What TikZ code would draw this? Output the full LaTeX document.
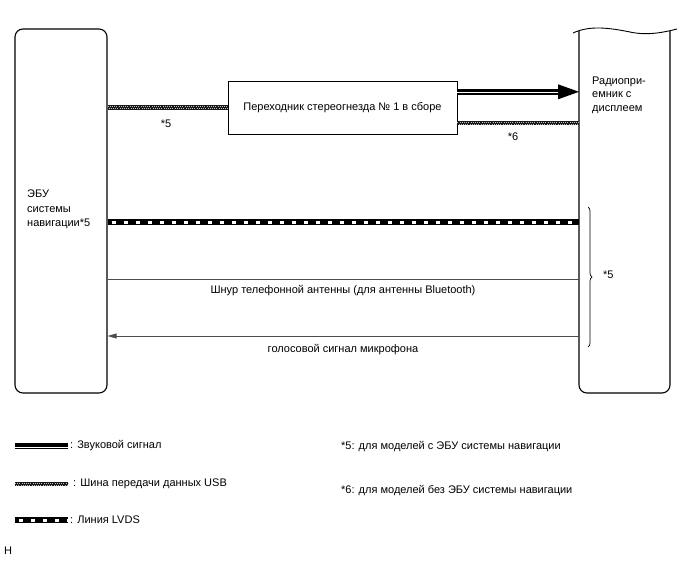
\documentclass[tikz,border=0pt]{standalone}
\usepackage{fontspec}
\setmainfont{Liberation Sans}
\usetikzlibrary{decorations.pathreplacing,calc,arrows.meta}
\tikzset{
  unitbox/.style={draw, line width=1.1pt, rounded corners=8pt, inner sep=0pt},
  lbl/.style={font=\fontsize{11}{14.3}\selectfont, inner sep=0pt},
  audiobase/.style={line width=5.7pt, draw=black},
  audiogap/.style={line width=1pt, draw=white},
  usbbase/.style={line width=4.5pt, draw=black!90},
  usbdots/.style={line width=0.8pt, draw=white!75!black, dash pattern=on 1pt off 1.2pt},
  lvdsbase/.style={line width=6pt, draw=black},
  lvdsgap/.style={line width=3pt, draw=white, dash pattern=on 4pt off 8pt, dash phase=-4pt},
  wire/.style={draw=black!70, line width=0.8pt},
}
\begin{document}
\begin{tikzpicture}[x=1pt,y=-1pt]
\useasboundingbox (0,0) rectangle (688,560);
% left ECU
\node[unitbox, minimum width=92pt, minimum height=364pt] (ecu) at (61,211) {};
\node[lbl, anchor=north west, align=left] (ecutxt) at (27,190) {ЭБУ\\системы\\навигации*5};
% right radio
\draw[line width=1.1pt, rounded corners=8pt] (579,31) -- (579,393) -- (670,393) -- (670,31);
\draw[line width=0.9pt] (573,33) .. controls (590,25) and (610,28) .. (630,32) .. controls (648,36) and (665,32) .. (677,29);
\node[lbl, anchor=north west, align=left, font=\fontsize{11}{13.2}\selectfont] (radio) at (592,77) {Радиопри-\\емник с\\дисплеем};
\coordinate (r1) at (579,91.8);
\coordinate (r2) at (579,123);
\coordinate (r3) at (579,222);
\coordinate (r4) at (579,279);
\coordinate (r5) at (579,336);
% adapter
\node[draw, line width=0.9pt, minimum width=229pt, minimum height=53pt, lbl] (adp) at (342.5,107.5) {Переходник стереогнезда № 1 в сборе};
% USB left
\draw[usbbase] (ecu.east |- adp.west) -- (adp.west);
\draw[usbdots] ($(ecu.east |- adp.west)+(0,-1)$) -- ($(adp.west)+(0,-1)$);
\draw[usbdots, dash phase=1.1pt] ($(ecu.east |- adp.west)+(0,1)$) -- ($(adp.west)+(0,1)$);
\node[lbl] (n5a) at (166,124) {*5};
% audio
\coordinate (a1) at ($(r1)+(-21,0)$);
\draw[audiobase] (adp.east |- r1) -- (a1);
\draw[audiogap] ($(adp.east |- r1)+(0,1)$) -- ($(a1)+(0,1)$);
\fill ($(r1)+(-21,-7.5)$) -- (r1) -- ($(r1)+(-21,7.5)$) -- cycle;
% USB right
\draw[usbbase] (adp.east |- r2) -- (r2);
\draw[usbdots] ($(adp.east |- r2)+(0,-1)$) -- ($(r2)+(0,-1)$);
\draw[usbdots, dash phase=1.1pt] ($(adp.east |- r2)+(0,1)$) -- ($(r2)+(0,1)$);
\node[lbl] (n6a) at (513,137) {*6};
% LVDS
\draw[lvdsbase] (ecu.east |- r3) -- (r3);
\draw[lvdsgap] (ecu.east |- r3) -- (r3);
% phone antenna
\draw[wire] (ecu.east |- r4) -- (r4);
\node[lbl] (phtxt) at (343,291) {Шнур телефонной антенны (для антенны Bluetooth)};
% mic
\draw[wire, -{Triangle[length=9pt,width=5pt]}] (r5) -- (ecu.east |- r5);
\node[lbl] (mictxt) at (343,350) {голосовой сигнал микрофона};
% brace
\draw[line width=0.7pt, decorate, decoration={brace, amplitude=4pt}] (588,207) -- (588,347);
\node[lbl, anchor=west] (n5b) at (603,275) {*5};
% legend
\coordinate (l1) at (15,446);
\coordinate (l1e) at (68,446);
\draw[audiobase] (l1) -- (l1e);
\draw[audiogap] ($(l1)+(0,1)$) -- ($(l1e)+(0,1)$);
\node[lbl, anchor=west] (t1) at (70,446) {: Звуковой сигнал};
\coordinate (l2) at (15,484);
\coordinate (l2e) at (68,484);
\draw[usbbase] (l2) -- (l2e);
\draw[usbdots] ($(l2)+(0,-1)$) -- ($(l2e)+(0,-1)$);
\draw[usbdots, dash phase=1.1pt] ($(l2)+(0,1)$) -- ($(l2e)+(0,1)$);
\node[lbl, anchor=west] (t2) at (73,484) {: Шина передачи данных USB};
\coordinate (l3) at (15,520);
\coordinate (l3e) at (68,520);
\draw[lvdsbase] (l3) -- (l3e);
\draw[lvdsgap] (l3) -- (l3e);
\node[lbl, anchor=west] (t3) at (70,520) {: Линия LVDS};
\node[lbl, anchor=west] (f5) at (341,447) {*5: для моделей с ЭБУ системы навигации};
\node[lbl, anchor=west] (f6) at (341,491) {*6: для моделей без ЭБУ системы навигации};
\node[lbl, anchor=west] (hh) at (4,551) {H};
\end{tikzpicture}
\end{document}
